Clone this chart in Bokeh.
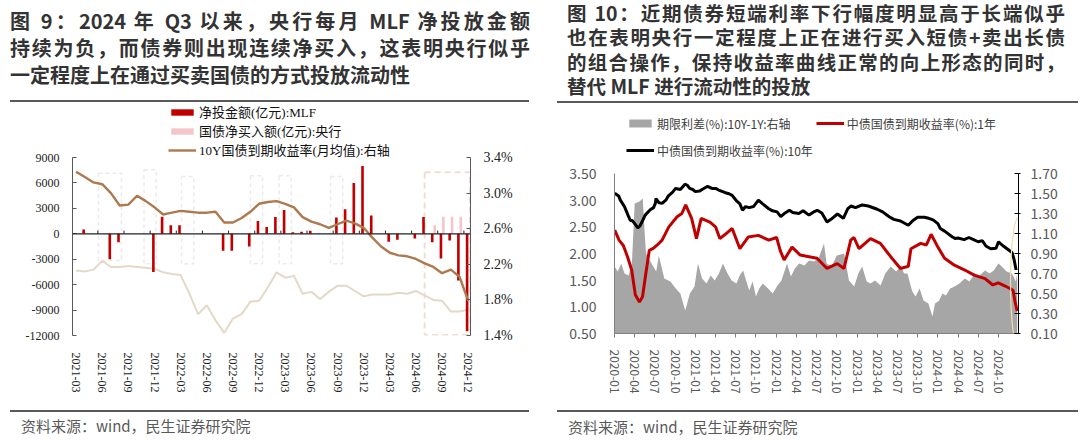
import numpy as np
import pandas as pd
from bokeh.plotting import figure
from bokeh.layouts import row, column
from bokeh.models import (Range1d, LinearAxis, FixedTicker, PrintfTickFormatter, Span,
                          BoxAnnotation, Legend, LegendItem, Div)
from bokeh.embed import file_html
from bokeh.resources import INLINE

# ---------------- texts ----------------
LEFT_TITLE = ["图 9：2024 年 Q3 以来，央行每月 MLF 净投放金额",
              "持续为负，而债券则出现连续净买入，这表明央行似乎",
              "一定程度上在通过买卖国债的方式投放流动性"]
RIGHT_TITLE = ["图 10：近期债券短端利率下行幅度明显高于长端似乎",
               "也在表明央行一定程度上正在进行买入短债+卖出长债",
               "的组合操作，保持收益率曲线正常的向上形态的同时，",
               "替代 MLF 进行流动性的投放"]
SOURCE = "资料来源：wind，民生证券研究院"

# ---------------- left chart data (monthly) ----------------
months = pd.period_range("2021-03", "2024-12", freq="M").strftime("%Y-%m").tolist()
mlf_net = [0, 500, 0, 0, -3000, -1000, 0, 0, 0, -4500,
           2000, 1000, 1000, 0, 0, 0, 0, -2000, -2000, 0, -1500, 1500,
           790, 1990, 2810, 170, 250, 370, 30, 10, 1910, 2890, 6000, 8000,
           2160, 10, -940, -700, 0, -550, 1970, -1010, -2910, -790, -5500, -11500]
pboc_buy = [None] * 41 + [1000, 2000, 2000, 2000, None]
y10_avg = [3.24, 3.18, 3.12, 3.10, 3.00, 2.86, 2.87, 2.97, 2.91, 2.84,
           2.76, 2.78, 2.80, 2.79, 2.78, 2.78, 2.79, 2.67, 2.67, 2.72, 2.79, 2.88,
           2.90, 2.91, 2.88, 2.84, 2.73, 2.68, 2.65, 2.61, 2.65, 2.69, 2.66, 2.61,
           2.50, 2.40, 2.33, 2.30, 2.29, 2.26, 2.21, 2.17, 2.10, 2.14, 2.06, 1.79]
light_line = [2.13, 2.12, 2.14, 2.24, 2.17, 2.17, 2.18, 2.17, 2.16, 2.15,
              2.11, 2.09, 2.08, 1.87, 1.64, 1.74, 1.57, 1.43, 1.59, 1.64, 1.78, 1.79,
              1.94, 2.11, 2.05, 2.07, 1.87, 1.89, 1.81, 1.89, 1.96, 1.96, 1.90, 1.84,
              1.86, 1.86, 1.86, 1.88, 1.87, 1.90, 1.85, 1.80, 1.79, 1.67, 1.67, 1.69]
left_labels_mlf = "净投金额(亿元):MLF"
left_labels_pboc = "国债净买入额(亿元):央行"
left_labels_y10 = "10Y国债到期收益率(月均值):右轴"

# annotation boxes (month-index units)
gray_boxes = [(2.57, 5.21, 7150, -3150), (7.8, 9.2, 7550, -3540), (12.1, 13.5, 6760, -3540),
              (20.0, 21.4, 6850, -3540), (23.3, 24.7, 6850, -3540), (29.2, 30.6, 6760, -3540)]
orange_box = (40.0, 45.2, 7260, -11950)

# ---------------- right chart data (daily, sampled) ----------------
y10_dates = ["2020-01-02", "2020-01-20", "2020-01-28", "2020-02-15", "2020-03-04", "2020-03-12",
             "2020-03-20", "2020-04-01", "2020-04-15", "2020-04-25", "2020-05-08", "2020-05-18",
             "2020-06-10", "2020-06-25", "2020-07-03", "2020-07-06", "2020-07-20", "2020-08-03",
             "2020-08-20", "2020-09-01", "2020-09-20", "2020-10-03", "2020-10-25", "2020-11-15",
             "2020-11-25", "2020-12-06", "2020-12-20", "2021-01-01", "2021-01-20", "2021-02-01",
             "2021-02-24", "2021-03-15", "2021-04-01", "2021-04-15", "2021-05-15", "2021-06-01",
             "2021-06-15", "2021-07-06", "2021-07-20", "2021-08-01", "2021-08-15", "2021-09-01",
             "2021-09-20", "2021-10-12", "2021-11-01", "2021-11-28", "2021-12-15", "2022-01-05",
             "2022-01-22", "2022-02-10", "2022-02-28", "2022-03-15", "2022-04-12", "2022-05-01",
             "2022-05-28", "2022-06-18", "2022-07-04", "2022-07-25", "2022-08-18", "2022-09-05",
             "2022-10-04", "2022-10-31", "2022-11-20", "2022-12-04", "2022-12-25", "2023-01-25",
             "2023-02-20", "2023-04-01", "2023-04-25", "2023-05-25", "2023-06-15", "2023-07-15",
             "2023-08-20", "2023-09-10", "2023-10-01", "2023-11-01", "2023-11-20", "2023-12-10",
             "2024-01-01", "2024-01-12", "2024-02-01", "2024-03-06", "2024-03-20", "2024-04-01",
             "2024-04-28", "2024-05-20", "2024-06-10", "2024-06-30", "2024-07-20", "2024-08-05",
             "2024-08-27", "2024-09-20", "2024-10-01", "2024-10-20", "2024-11-18", "2024-12-01",
             "2024-12-10", "2024-12-20"]
y10_vals = [3.13, 3.08, 3.00, 2.88, 2.69, 2.62, 2.62, 2.56, 2.48, 2.52, 2.63, 2.72,
            2.82, 2.86, 2.94, 3.03, 2.95, 2.94, 3.00, 3.08, 3.15, 3.22, 3.20, 3.30,
            3.28, 3.22, 3.20, 3.16, 3.17, 3.20, 3.26, 3.22, 3.22, 3.19, 3.14, 3.12,
            3.09, 2.98, 2.93, 2.81, 2.88, 2.86, 2.88, 3.00, 2.93, 2.84, 2.80, 2.78,
            2.69, 2.76, 2.81, 2.77, 2.75, 2.80, 2.72, 2.78, 2.81, 2.76, 2.59, 2.64,
            2.74, 2.66, 2.84, 2.89, 2.86, 2.91, 2.89, 2.83, 2.78, 2.69, 2.64, 2.61,
            2.53, 2.62, 2.68, 2.68, 2.66, 2.63, 2.56, 2.47, 2.42, 2.31, 2.28, 2.29,
            2.26, 2.30, 2.26, 2.22, 2.24, 2.14, 2.09, 2.10, 2.22, 2.15, 2.06, 2.02,
            1.90, 1.69]
y1_dates = ["2020-01-02", "2020-01-22", "2020-02-10", "2020-02-28", "2020-03-18", "2020-04-04",
            "2020-04-22", "2020-05-06", "2020-05-21", "2020-06-06", "2020-06-25", "2020-07-12",
            "2020-08-03", "2020-09-03", "2020-10-10", "2020-11-01", "2020-11-18", "2020-12-15",
            "2021-01-06", "2021-01-28", "2021-03-06", "2021-04-01", "2021-04-20", "2021-05-15",
            "2021-06-15", "2021-07-20", "2021-08-28", "2021-10-12", "2021-11-28", "2022-01-03",
            "2022-01-20", "2022-02-06", "2022-03-12", "2022-04-18", "2022-05-28", "2022-07-03",
            "2022-08-18", "2022-10-03", "2022-11-03", "2022-12-03", "2022-12-18", "2023-01-10",
            "2023-03-01", "2023-04-15", "2023-06-01", "2023-07-15", "2023-08-20", "2023-09-01",
            "2023-10-15", "2023-11-10", "2023-12-01", "2024-01-01", "2024-02-01", "2024-03-15",
            "2024-05-01", "2024-06-15", "2024-08-01", "2024-09-06", "2024-09-30", "2024-11-01",
            "2024-12-06", "2024-12-15", "2024-12-25"]
y1_vals = [2.44, 2.25, 2.15, 1.94, 1.69, 1.22, 1.09, 1.19, 1.62, 2.06, 2.10, 2.16,
           2.25, 2.50, 2.69, 2.75, 2.91, 2.66, 2.28, 2.66, 2.59, 2.50, 2.28, 2.36,
           2.47, 2.09, 2.31, 2.34, 2.25, 2.30, 2.05, 1.88, 2.12, 1.97, 1.94, 1.91,
           1.72, 1.81, 1.72, 2.25, 2.30, 2.09, 2.28, 2.19, 1.94, 1.72, 1.76, 2.09,
           2.19, 2.16, 2.36, 2.12, 1.91, 1.78, 1.69, 1.59, 1.53, 1.41, 1.45, 1.39,
           1.31, 1.10, 0.92]
spread_dates = ["2020-01-01", "2020-01-16", "2020-02-01", "2020-02-15", "2020-03-04", "2020-03-19",
                "2020-04-01", "2020-04-22", "2020-05-07", "2020-05-16", "2020-05-22", "2020-06-16",
                "2020-07-07", "2020-07-19", "2020-08-13", "2020-09-10", "2020-10-04", "2020-10-25",
                "2020-11-16", "2020-12-07", "2020-12-28", "2021-01-13", "2021-02-01", "2021-02-19",
                "2021-03-10", "2021-03-28", "2021-04-16", "2021-05-04", "2021-05-25", "2021-06-13",
                "2021-07-04", "2021-07-19", "2021-08-04", "2021-08-19", "2021-09-01", "2021-09-16",
                "2021-10-01", "2021-10-16", "2021-11-01", "2021-11-25", "2021-12-16", "2022-01-07",
                "2022-01-25", "2022-02-18", "2022-03-07", "2022-03-25", "2022-04-13", "2022-05-07",
                "2022-05-28", "2022-06-19", "2022-07-10", "2022-08-04", "2022-08-16", "2022-09-07",
                "2022-10-01", "2022-11-04", "2022-11-25", "2022-12-19", "2023-01-07", "2023-01-25",
                "2023-02-13", "2023-03-01", "2023-03-22", "2023-04-16", "2023-05-07", "2023-06-01",
                "2023-06-25", "2023-07-16", "2023-08-01", "2023-08-16", "2023-09-07", "2023-09-22",
                "2023-10-10", "2023-10-28", "2023-11-19", "2023-12-07", "2023-12-19", "2024-01-07",
                "2024-01-22", "2024-02-07", "2024-02-25", "2024-03-16", "2024-04-07", "2024-05-01",
                "2024-05-22", "2024-06-16", "2024-07-07", "2024-08-01", "2024-08-22", "2024-09-10",
                "2024-10-01", "2024-10-16", "2024-11-07", "2024-12-01", "2024-12-19", "2024-12-25"]
spread_vals = [0.77, 0.72, 0.80, 0.70, 0.68, 0.80, 1.40, 1.42, 1.45, 1.10, 0.90, 0.80,
               0.72, 0.88, 0.65, 0.62, 0.55, 0.50, 0.33, 0.50, 0.57, 0.80, 0.65, 0.60,
               0.68, 0.63, 0.70, 0.80, 0.70, 0.63, 0.60, 0.68, 0.73, 0.62, 0.53, 0.62,
               0.47, 0.55, 0.60, 0.55, 0.50, 0.58, 0.63, 0.80, 0.67, 0.75, 0.80, 0.78,
               0.83, 0.82, 0.85, 1.00, 0.80, 0.77, 0.88, 0.90, 0.63, 0.57, 0.70, 0.77,
               0.62, 0.60, 0.63, 0.58, 0.70, 0.77, 0.72, 0.77, 0.70, 0.70, 0.52, 0.47,
               0.55, 0.43, 0.40, 0.27, 0.40, 0.43, 0.50, 0.48, 0.55, 0.57, 0.60, 0.65,
               0.62, 0.70, 0.68, 0.73, 0.70, 0.73, 0.80, 0.77, 0.72, 0.70, 0.62, 0.70]
right_tick_labels = [f"{y}-{m:02d}" for y in range(2020, 2025) for m in (1, 4, 7, 10)]
right_label_spread = "期限利差(%):10Y-1Y:右轴"
right_label_y1 = "中债国债到期收益率(%):1年"
right_label_y10 = "中债国债到期收益率(%):10年"

# ---------------- styles ----------------
SERIF = "'Liberation Serif', 'Noto Sans CJK SC'"
SANS = "'Noto Sans CJK SC'"
RED = "#C00000"
PINK = "#F4C6CB"
BROWN = "#AD7A50"
BEIGE = "#E4D9C8"
AREA = "#A6A6A6"


def month_pos(dates):
    d = pd.to_datetime(pd.Series(dates))
    return ((d.dt.year - 2020) * 12 + (d.dt.month - 1) + (d.dt.day - 1) / d.dt.days_in_month).to_numpy(float)


def extended(lo, hi, plot_px, extra_px):
    # range whose top is extended by extra_px screen pixels above the axis span (room for legend)
    return Range1d(lo, hi + (hi - lo) * extra_px / plot_px)


# ================= LEFT FIGURE =================
# axis span 178 px tall, legend room 55 px above it
idx = np.arange(len(months), dtype=float)
pL = figure(width=540, height=300, x_range=Range1d(-0.41, 45.26), y_range=extended(-12000, 9000, 178, 55),
            output_backend="svg", toolbar_location=None, title=None,
            min_border_left=72, min_border_right=70, min_border_top=0, min_border_bottom=67)
pL.outline_line_color = None
pL.xgrid.visible = False
pL.ygrid.visible = False
pL.extra_y_ranges = {"yield": extended(1.4, 3.4, 178, 55)}

for (l, r, t, b) in gray_boxes:
    pL.add_layout(BoxAnnotation(left=l, right=r, top=t, bottom=b, fill_color=None,
                                line_color="#BDBDBD", line_dash="4 3", line_width=1.5, level="underlay"))
l, r, t, b = orange_box
pL.add_layout(BoxAnnotation(left=l, right=r, top=t, bottom=b, fill_color=None,
                            line_color="#CC9278", line_dash="6 4", line_width=2, level="underlay"))

r_light = pL.line(idx, light_line, y_range_name="yield", line_color=BEIGE, line_width=2)
r_mlf = pL.vbar(x=idx - 0.13, top=mlf_net, width=0.3, fill_color=RED, line_color=None)
pboc_arr = np.array([np.nan if v is None else v for v in pboc_buy], dtype=float)
r_pboc = pL.vbar(x=idx + 0.15, top=pboc_arr, width=0.3, fill_color=PINK, line_color=None)
r_y10 = pL.line(idx, y10_avg, y_range_name="yield", line_color=BROWN, line_width=2.4)

pL.add_layout(Span(location=0, dimension="width", line_color="#222222", line_width=1.2))
tick_x = [i + 0.5 for i in range(2, 45, 3)]
pL.segment(x0=tick_x, y0=[0] * len(tick_x), x1=tick_x, y1=[380] * len(tick_x),
           line_color="#222222", line_width=1)

ax = pL.xaxis[0]
ax.ticker = FixedTicker(ticks=list(range(0, 46, 3)))
ax.major_label_overrides = {i: months[i] for i in range(0, 46, 3)}
ax.major_label_orientation = "vertical"
ax.axis_line_color = None
ax.major_tick_line_color = None
ax.minor_tick_line_color = None
ax.major_label_standoff = 11
ax.major_label_text_font = SERIF
ax.major_label_text_font_size = "12px"
ax.major_label_text_color = "#222222"

ay = pL.yaxis[0]
ay.ticker = FixedTicker(ticks=list(range(-12000, 9001, 3000)))
ay.formatter = PrintfTickFormatter(format="%d")
ay.bounds = (-12000, 9000)
ay.axis_line_color = "#595959"
ay.major_tick_line_color = "#595959"
ay.major_tick_in = 4
ay.major_tick_out = 0
ay.minor_tick_line_color = None
ay.major_label_standoff = 13
ay.major_label_text_font = SERIF
ay.major_label_text_font_size = "12px"
ay.major_label_text_color = "#222222"

ay2 = LinearAxis(y_range_name="yield", ticker=FixedTicker(ticks=[1.4, 1.8, 2.2, 2.6, 3.0, 3.4]),
                 formatter=PrintfTickFormatter(format="%.1f%%"), bounds=(1.4, 3.4))
ay2.axis_line_color = "#595959"
ay2.major_tick_line_color = "#595959"
ay2.major_tick_in = 4
ay2.major_tick_out = 0
ay2.minor_tick_line_color = None
ay2.major_label_standoff = 13
ay2.major_label_text_font = SERIF
ay2.major_label_text_font_size = "14px"
ay2.major_label_text_color = "#222222"
pL.add_layout(ay2, "right")

legL = Legend(items=[LegendItem(label=left_labels_mlf, renderers=[r_mlf]),
                     LegendItem(label=left_labels_pboc, renderers=[r_pboc]),
                     LegendItem(label=left_labels_y10, renderers=[r_y10])],
              location=(96, 176), orientation="vertical", border_line_color=None,
              background_fill_alpha=0, label_text_font=SERIF, label_text_font_size="13px",
              label_text_color="#111111", glyph_width=28, glyph_height=8, label_height=15,
              spacing=0, padding=0, margin=0, label_standoff=3)
pL.add_layout(legL, "center")

# ================= RIGHT FIGURE =================
# axis span 160 px tall, legend room 67 px above it
x_end = 59.97
pR = figure(width=538, height=298, x_range=Range1d(0, x_end), y_range=extended(0.5, 3.5, 160, 67),
            output_backend="svg", toolbar_location=None, title=None,
            min_border_left=74, min_border_right=60, min_border_top=0, min_border_bottom=71)
pR.outline_line_color = None
pR.xgrid.visible = False
pR.ygrid.visible = False
pR.extra_y_ranges = {"spread": extended(0.1, 1.7, 160, 67)}

r_spread = pR.varea(x=month_pos(spread_dates), y1=0.0, y2=spread_vals, y_range_name="spread",
                    fill_color=AREA)
r_y1 = pR.line(month_pos(y1_dates), y1_vals, line_color=RED, line_width=3)
r_y10d = pR.line(month_pos(y10_dates), y10_vals, line_color="#000000", line_width=3)
pR.ellipse(x=[x_end], y=[1.45], width=16, height=130, width_units="screen", height_units="screen",
           fill_color=None, line_color="#EEDDB0", line_width=1.2)

bx = pR.xaxis[0]
bx.ticker = FixedTicker(ticks=list(range(0, 58, 3)))
bx.major_label_overrides = {3 * k: lab for k, lab in enumerate(right_tick_labels)}
bx.major_label_orientation = "vertical"
bx.axis_line_color = "#808080"
bx.major_tick_line_color = "#808080"
bx.major_tick_in = 0
bx.major_tick_out = 4
bx.minor_tick_line_color = None
bx.major_label_standoff = 12
bx.major_label_text_font = SANS
bx.major_label_text_font_size = "12px"
bx.major_label_text_color = "#595959"

by = pR.yaxis[0]
by.ticker = FixedTicker(ticks=[0.5, 1.0, 1.5, 2.0, 2.5, 3.0, 3.5])
by.formatter = PrintfTickFormatter(format="%.2f")
by.bounds = (0.5, 3.5)
by.axis_line_color = "#808080"
by.major_tick_line_color = None
by.minor_tick_line_color = None
by.major_label_standoff = 12
by.major_label_text_font = SANS
by.major_label_text_font_size = "14px"
by.major_label_text_color = "#595959"

by2 = LinearAxis(y_range_name="spread", ticker=FixedTicker(ticks=[0.1, 0.3, 0.5, 0.7, 0.9, 1.1, 1.3, 1.5, 1.7]),
                 formatter=PrintfTickFormatter(format="%.2f"), bounds=(0.1, 1.7))
by2.axis_line_color = "#000000"
by2.major_tick_line_color = "#000000"
by2.major_tick_in = 4
by2.major_tick_out = 2
by2.minor_tick_line_color = None
by2.major_label_standoff = 10
by2.major_label_text_font = SANS
by2.major_label_text_font_size = "14px"
by2.major_label_text_color = "#595959"
pR.add_layout(by2, "right")

legR = Legend(items=[LegendItem(label=right_label_spread, renderers=[r_spread]),
                     LegendItem(label=right_label_y1, renderers=[r_y1]),
                     LegendItem(label=right_label_y10, renderers=[r_y10d])],
              location=(12, 171), orientation="horizontal", ncols=2, border_line_color=None,
              background_fill_alpha=0, label_text_font=SANS, label_text_font_size="12px",
              label_text_color="#404040", glyph_width=28, glyph_height=10, label_height=24,
              spacing=3, padding=0, margin=0, label_standoff=3)
pR.add_layout(legR, "center")


# ================= TEXT BLOCKS =================
def title_div(lines, tops, left, width, lh, fs, rule_left, rule_top, rule_w, w, h):
    parts = []
    for k, (t, top) in enumerate(zip(lines, tops)):
        align = "left" if k == len(lines) - 1 else "justify"
        parts.append(f'<div style="position:absolute;left:{left}px;top:{top}px;width:{width}px;'
                     f'height:{lh}px;line-height:{lh}px;font-size:{fs}px;font-weight:700;color:#333333;'
                     f'text-align:{align};text-align-last:{align};">{t}</div>')
    parts.append(f'<div style="position:absolute;left:{rule_left}px;top:{rule_top}px;width:{rule_w}px;'
                 f'height:2px;background:#595959;"></div>')
    html = (f'<div style="position:relative;width:{w}px;height:{h}px;'
            f'font-family:{SANS},sans-serif;">' + "".join(parts) + '</div>')
    return Div(text=html, width=w, height=h,
               styles={"overflow": "visible", "margin": "0", "padding": "0"})


def source_div(rule_left, rule_top, rule_w, text_left, text_top, w, h):
    html = (f'<div style="position:relative;width:{w}px;height:{h}px;font-family:{SANS},sans-serif;">'
            f'<div style="position:absolute;left:{rule_left}px;top:{rule_top}px;width:{rule_w}px;'
            f'height:2px;background:#595959;"></div>'
            f'<div style="position:absolute;left:{text_left}px;top:{text_top}px;line-height:18px;'
            f'font-size:15px;color:#595959;white-space:nowrap;">{SOURCE}</div></div>')
    return Div(text=html, width=w, height=h,
               styles={"overflow": "visible", "margin": "0", "padding": "0"})


tL = title_div(LEFT_TITLE, [7, 34, 61], 10, 520, 27, 20, 10, 100, 519, 540, 102)
tR = title_div(RIGHT_TITLE, [1, 25, 50, 74], 27, 498, 24, 19.5, 17, 101, 521, 538, 106)
sL = source_div(10, 8, 519, 21, 15, 540, 30)
sR = source_div(17, 6, 521, 28, 14, 538, 28)

layout = row(column(tL, pL, sL, spacing=0), column(tR, pR, sR, spacing=0), spacing=0)
open("out.html", "w").write(file_html(layout, INLINE))
